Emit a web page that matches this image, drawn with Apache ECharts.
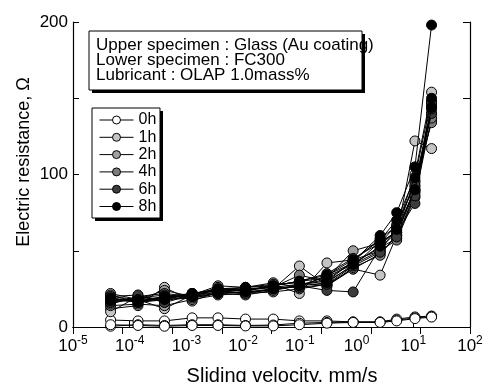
<!DOCTYPE html>
<html>
<head>
<meta charset="utf-8">
<script src="https://cdn.jsdelivr.net/npm/echarts@6/dist/echarts.min.js"></script>
<style>
html,body{margin:0;padding:0;background:#fff;}
#chart{width:484px;height:382px;}
</style>
</head>
<body>
<div id="chart"></div>
<script>
// ---- data ----
const velocity = [4.6e-5, 1.4e-4, 4.1e-4, 1.26e-3, 3.6e-3, 1.1e-2, 3.4e-2, 9.8e-2, 0.30, 0.87, 2.6, 5.1, 10.7, 21];
const hours = ['0h', '1h', '2h', '4h', '6h', '8h'];
const fills = ['#ffffff', '#c4c4c4', '#a0a0a0', '#7c7c7c', '#3c3c3c', '#000000'];
const r0h = [
  [4.6, 4, 4, 6, 6, 5.2, 5.2, 4, 4, 3.3, 3.3, 5.2, 6.6, 7.2],
  [0.5, 1.5, 1, 1.5, 1.5, 1, 1.3, 2.5, 3, 3.3, 3.3, 4.5, 6, 7],
  [1.5, 1, 0.5, 1, 1, 0.7, 0.7, 1.5, 2.5, 3, 3, 4, 5.5, 6.5]
];
const r1h = [
  [12, 14, 26, 17, 23, 22, 25, 40, 27, 38, 34, 60, 122, 117],
  [22, 18, 12, 21, 27, 26, 28, 22, 42, 44, 50, 65, 100, 154],
  [10, 20, 18, 19, 22, 23, 24, 28, 30, 40, 56, 62, 90, 148]
];
const r2h = [
  [20, 18, 24, 20, 25, 24, 27, 30, 32, 50, 55, 63, 96, 140],
  [14, 15, 14, 18, 21, 22, 23, 25, 28, 38, 48, 60, 92, 135],
  [18, 17, 20, 22, 24, 26, 29, 26, 34, 42, 52, 58, 88, 145]
];
const r4h = [
  [17, 19, 17, 21, 23, 25, 26, 34, 30, 43, 58, 66, 95, 134],
  [21, 16, 19, 19, 22, 21, 24, 27, 33, 41, 50, 57, 85, 137],
  [15, 20, 22, 20, 26, 23, 28, 29, 27, 39, 47, 61, 89, 147]
];
const r6h = [
  [19, 17, 18, 22, 24, 22, 25, 27, 24, 23, 52, 62, 81, 147],
  [16, 19, 21, 20, 23, 24, 27, 30, 35, 45, 55, 67, 93, 140],
  [20, 21, 16, 21, 25, 25, 26, 26, 28, 40, 49, 59, 86, 143]
];
const r8h = [
  [18, 18, 19, 21, 24, 24, 26, 28, 31, 43, 60, 75, 105, 198],
  [17, 17, 20, 20, 22, 23, 25, 27, 29, 41, 53, 64, 90, 144],
  [19, 16, 18, 22, 25, 26, 27, 30, 34, 44, 57, 70, 98, 150]
];
const runs = [r0h, r1h, r2h, r4h, r6h, r8h];
const infoLines = ['Upper specimen : Glass (Au coating)', 'Lower specimen : FC300', 'Lubricant : OLAP 1.0mass%'];
const xName = 'Sliding velocity, mm/s';
const yName = 'Electric resistance, \u03A9';

// ---- chart ----
const FONT = 'Liberation Sans, Arial, sans-serif';
const series = [];
runs.forEach((set, h) => {
  set.forEach(vals => {
    series.push({
      name: hours[h],
      type: 'line',
      xAxisIndex: 0, yAxisIndex: 0,
      data: vals.map((v, i) => [velocity[i], v]),
      symbol: 'circle',
      symbolSize: 10,
      lineStyle: { color: '#000', width: 1 },
      itemStyle: { color: fills[h], borderColor: '#000', borderWidth: 1 },
      emphasis: { disabled: true },
      animation: false,
      z: 2 + h
    });
  });
});

const chart = echarts.init(document.getElementById('chart'), null, { renderer: 'canvas' });
chart.setOption({
  backgroundColor: '#fff',
  animation: false,
  textStyle: { fontFamily: FONT },
  grid: { left: 73, right: 14, top: 22, bottom: 55, containLabel: false, outerBoundsMode: 'none' },
  xAxis: [{
    type: 'log', logBase: 10, min: 1e-5, max: 100, interval: 1,
    position: 'bottom',
    name: xName, nameLocation: 'middle', nameGap: 39, nameMoveOverlap: false,
    nameTextStyle: { fontSize: 20, color: '#000', fontFamily: FONT, padding: [0, 0, 0, 21] },
    axisLine: { show: true, lineStyle: { color: '#000', width: 1.2 } },
    axisTick: { show: true, inside: true, length: 6, lineStyle: { color: '#000' } },
    minorTick: { show: false },
    splitLine: { show: false },
    axisLabel: {
      margin: 8,
      formatter: v => '{b|10}{s|' + Math.round(Math.log10(v)) + '}',
      rich: {
        b: { fontSize: 17, color: '#000', fontFamily: FONT, verticalAlign: 'bottom', lineHeight: 20 },
        s: { fontSize: 12, color: '#000', fontFamily: FONT, verticalAlign: 'top', lineHeight: 12 }
      }
    }
  }, {
    type: 'value', min: 0, max: 8, interval: 1, position: 'top',
    axisLine: { show: true, lineStyle: { color: '#000', width: 1.2 } },
    axisTick: { show: true, inside: true, length: 7, lineStyle: { color: '#000' } },
    axisLabel: { show: false },
    splitLine: { show: false }
  }],
  yAxis: [{
    type: 'value', min: 0, max: 200, interval: 50, position: 'left',
    name: yName, nameLocation: 'middle', nameGap: 40, nameMoveOverlap: false,
    nameTextStyle: { fontSize: 18, color: '#000', fontFamily: FONT, padding: [0, 0, 0, 25] },
    axisLine: { show: true, lineStyle: { color: '#000', width: 1.2 } },
    axisTick: { show: true, inside: true, length: 6, lineStyle: { color: '#000' } },
    splitLine: { show: false },
    axisLabel: {
      margin: 5, fontSize: 17, color: '#000', fontFamily: FONT,
      formatter: v => (v % 100 === 0 ? String(v) : '')
    }
  }, {
    type: 'value', min: 0, max: 200, interval: 50, position: 'right',
    axisLine: { show: true, lineStyle: { color: '#000', width: 1.2 } },
    axisTick: { show: true, inside: true, length: 7, lineStyle: { color: '#000' } },
    axisLabel: { show: false },
    splitLine: { show: false }
  }],
  legend: {
    data: hours,
    orient: 'vertical',
    left: 99, top: 112,
    padding: 0,
    itemWidth: 34, itemHeight: 10, itemGap: 1.3,
    lineStyle: { width: 1, color: '#000' },
    itemStyle: { borderWidth: 1, borderColor: '#000' },
    textStyle: { fontSize: 16, color: '#000', fontFamily: FONT, lineHeight: 16 },
    selectedMode: false,
    z: 20
  },
  graphic: [
    { type: 'rect', z: 10, shape: { x: 92, y: 34, width: 273, height: 59 }, style: { fill: '#000' } },
    { type: 'rect', z: 11, shape: { x: 89, y: 31, width: 273, height: 59 }, style: { fill: '#fff', stroke: '#000', lineWidth: 1 } },
    { type: 'text', z: 12, x: 96, y: 38, style: { text: infoLines.join('\n'), font: '17px ' + FONT, fill: '#000', lineHeight: 15, textVerticalAlign: 'top' } },
    { type: 'rect', z: 10, shape: { x: 95, y: 111, width: 68, height: 110 }, style: { fill: '#000' } },
    { type: 'rect', z: 11, shape: { x: 92, y: 108, width: 68, height: 110 }, style: { fill: '#fff', stroke: '#000', lineWidth: 1 } }
  ],
  series: series
});
</script>
</body>
</html>
